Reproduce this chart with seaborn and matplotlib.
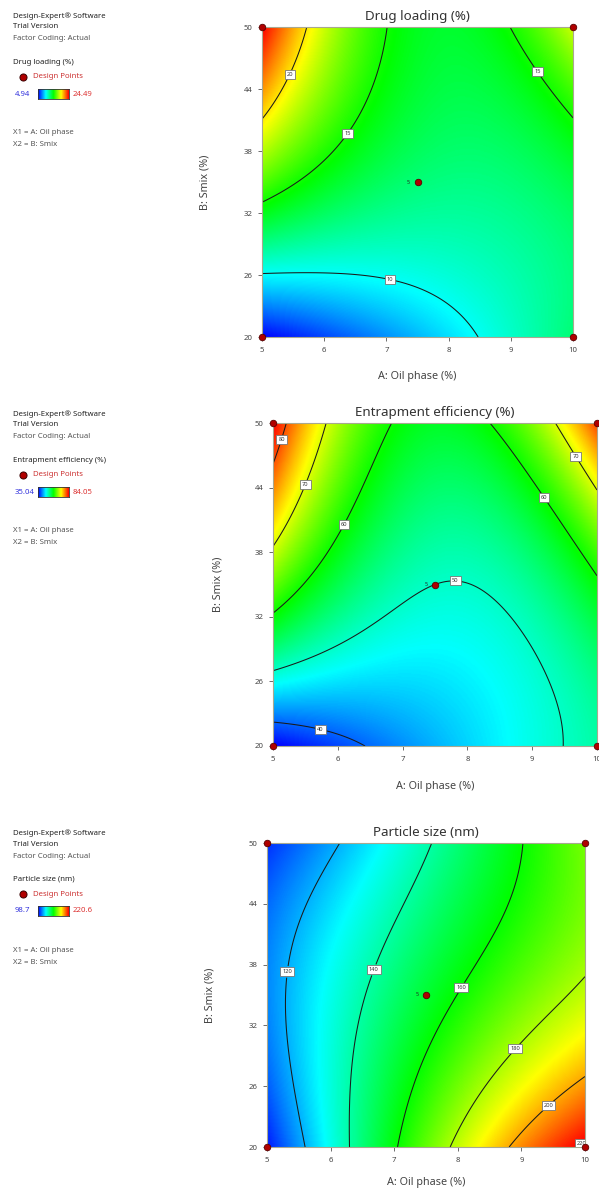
import numpy as np
import pandas as pd
import matplotlib
matplotlib.use("Agg")
import matplotlib.pyplot as plt
import seaborn as sns
from matplotlib.colors import LinearSegmentedColormap

# ---------------- data ----------------
oil_levels = [5.0, 7.5, 10.0]          # A: Oil phase (%)
smix_levels = [20.0, 35.0, 50.0]       # B: Smix (%)

# response values on the 3x3 grid (rows: Smix 20, 35, 50; cols: Oil 5, 7.5, 10)
drug_loading = [[5.0, 8.5, 12.5],
                [16.3, 12.44, 13.37],
                [24.5, 14.14, 18.58]]
entrapment = [[35.0, 43.65, 51.6],
              [64.5, 50.0, 59.2],
              [84.0, 57.78, 80.5]]
particle_size = [[101.7, 171.07, 222.0],
                 [115.0, 153.6, 182.7],
                 [104.3, 138.75, 173.7]]

dl_range = [4.94, 24.49]
ee_range = [35.04, 84.05]
ps_range = [98.7, 220.6]
dl_range_lbl = ["4.94", "24.49"]
ee_range_lbl = ["35.04", "84.05"]
ps_range_lbl = ["98.7", "220.6"]

dl_levels = [10, 15, 20]
ee_levels = [40, 50, 60, 70, 80]
ps_levels = [120, 140, 160, 180, 200, 220]

design_oil = [5, 10, 5, 10, 7.5]
design_smix = [20, 20, 50, 50, 35]
center_reps = "5"

x_ticks = [5, 6, 7, 8, 9, 10]
y_ticks = [20, 26, 32, 38, 44, 50]

titles = ["Drug loading (%)", "Entrapment efficiency (%)", "Particle size (nm)"]
resp_names = ["Drug loading (%)", "Entrapment efficiency (%)", "Particle size (nm)"]

# ---------------- styling ----------------
sns.set_theme(style="white")
plt.rcParams['font.family'] = ['Noto Sans', 'DejaVu Sans']

cmap = LinearSegmentedColormap.from_list(
    "de", ["#0000ff", "#00ffff", "#00ff00", "#ffff00", "#ff0000"])

fig = plt.figure(figsize=(5.99, 11.92), dpi=100)
W, H = 599.0, 1192.0


def lagrange(nodes, v):
    nodes = np.asarray(nodes)
    L = []
    for i in range(3):
        others = [nodes[j] for j in range(3) if j != i]
        L.append((v - others[0]) * (v - others[1]) /
                 ((nodes[i] - others[0]) * (nodes[i] - others[1])))
    return np.array(L)  # (3, n)


xg = np.linspace(5, 10, 300)
yg = np.linspace(20, 50, 300)
Lx = lagrange(oil_levels, xg)
Ly = lagrange(smix_levels, yg)


def surface(vals):
    return Ly.T @ np.asarray(vals) @ Lx


# axes boxes in pixels: left, top, right, bottom
panels = [
    dict(box=(262, 27, 573, 337), vals=drug_loading, rng=dl_range, rlbl=dl_range_lbl,
         levels=dl_levels, text_top=16, xlab_y=377, ylab_x=205,
         lab_pos=[(5.42, 45.5), (6.25, 40.2), (9.49, 45.9), (7.06, 25.6)]),
    dict(box=(273, 423, 597, 746), vals=entrapment, rng=ee_range, rlbl=ee_range_lbl,
         levels=ee_levels, text_top=414, xlab_y=787, ylab_x=218,
         lab_pos=[(5.13, 48.5), (5.49, 44.3), (6.09, 40.6), (7.82, 36.0),
                  (9.2, 43.2), (9.69, 47.0), (5.75, 21.9)]),
    dict(box=(267, 843, 585, 1147), vals=particle_size, rng=ps_range, rlbl=ps_range_lbl,
         levels=ps_levels, text_top=833, xlab_y=1183, ylab_x=210,
         lab_pos=[(5.30, 37.3), (6.67, 37.5), (8.06, 35.7), (8.90, 29.7),
                  (9.37, 24.5), (9.87, 21.0)]),
]

design_df = pd.DataFrame({"oil": design_oil, "smix": design_smix})
FS = 5.6

for k, p in enumerate(panels):
    l, t, r, b = p["box"]
    ax = fig.add_axes([l / W, 1 - b / H, (r - l) / W, (b - t) / H])
    Z = surface(p["vals"])
    ax.imshow(Z, extent=[5, 10, 20, 50], origin="lower", aspect="auto",
              cmap=cmap, vmin=p["rng"][0], vmax=p["rng"][1], interpolation="bilinear")
    cs = ax.contour(xg, yg, Z, levels=p["levels"], colors="#1a1a1a", linewidths=0.75)
    labs = ax.clabel(cs, fmt="%d", fontsize=4.1, inline=True, inline_spacing=1,
                     manual=p["lab_pos"])
    for tx in labs:
        tx.set_rotation(0)
        tx.set_color("#333333")
        tx.set_bbox(dict(boxstyle="square,pad=0.35", fc="white", ec="#777777", lw=0.6))
    sns.scatterplot(data=design_df, x="oil", y="smix", ax=ax, s=22, color="#b00000",
                    edgecolor="#5a0000", linewidth=0.6, clip_on=False, zorder=10,
                    legend=False)
    ax.text(7.5 - 0.12, 35, center_reps, fontsize=3.8, color="#222222",
            ha="right", va="center", zorder=11)
    ax.set_xlim(5, 10)
    ax.set_ylim(20, 50)
    ax.set_xticks(x_ticks)
    ax.set_yticks(y_ticks)
    ax.tick_params(axis="both", which="both", direction="out", length=3, width=0.6,
                   color="#555555", labelsize=5.6, labelcolor="#444444", pad=4,
                   bottom=True, left=True)
    for sp in ax.spines.values():
        sp.set_color("#a8a890")
        sp.set_linewidth(0.8)
    ax.set_xlabel("A: Oil phase (%)", fontsize=7.8, color="#444444")
    ax.set_ylabel("B: Smix (%)", fontsize=7.8, color="#444444")
    ax.xaxis.label.set_va("center")
    ax.yaxis.label.set_va("center")
    ax.xaxis.set_label_coords(0.5, (b - p["xlab_y"]) / (b - t))
    ax.yaxis.set_label_coords((p["ylab_x"] - l) / (r - l), 0.5)
    ax.text(0.5, 1 + 10.5 / (b - t), titles[k], transform=ax.transAxes,
            fontsize=9.6, color="#333333", ha="center", va="center")

    # left information block
    y0 = p["text_top"]
    x0 = 13

    def fy(py):
        return 1 - py / H

    fig.text(x0 / W, fy(y0), "Design-Expert\u00ae Software", fontsize=FS,
             fontweight="bold", color="#222222", va="center")
    fig.text(x0 / W, fy(y0 + 11), "Trial Version", fontsize=FS,
             fontweight="bold", color="#222222", va="center")
    fig.text(x0 / W, fy(y0 + 23), "Factor Coding: Actual", fontsize=FS,
             color="#555555", va="center")
    fig.text(x0 / W, fy(y0 + 46), resp_names[k], fontsize=FS,
             fontweight="bold", color="#222222", va="center")
    fig.text(33 / W, fy(y0 + 61), "Design Points", fontsize=FS,
             color="#cc3333", va="center")
    fig.text(15 / W, fy(y0 + 78), p["rlbl"][0], fontsize=FS,
             color="#3333dd", va="center")
    fig.text(73 / W, fy(y0 + 78), p["rlbl"][1], fontsize=FS,
             color="#dd3333", va="center")
    cax = fig.add_axes([38 / W, fy(y0 + 83), 31 / W, 10 / H])
    cax.imshow(np.linspace(0, 1, 100)[None, :], aspect="auto", cmap=cmap)
    cax.set_xticks([])
    cax.set_yticks([])
    for sp in cax.spines.values():
        sp.set_color("#333333")
        sp.set_linewidth(0.6)
    dax = fig.add_axes([18 / W, fy(y0 + 66), 10 / W, 10 / H])
    dax.set_axis_off()
    dax.scatter([0], [0], s=26, color="#b00000", edgecolor="#3a0000", linewidth=0.7)
    dax.set_xlim(-1, 1)
    dax.set_ylim(-1, 1)
    fig.text(x0 / W, fy(y0 + 117), "X1 = A: Oil phase", fontsize=FS,
             color="#555555", va="center")
    fig.text(x0 / W, fy(y0 + 129), "X2 = B: Smix", fontsize=FS,
             color="#555555", va="center")

fig.savefig("out.png", dpi=100)
